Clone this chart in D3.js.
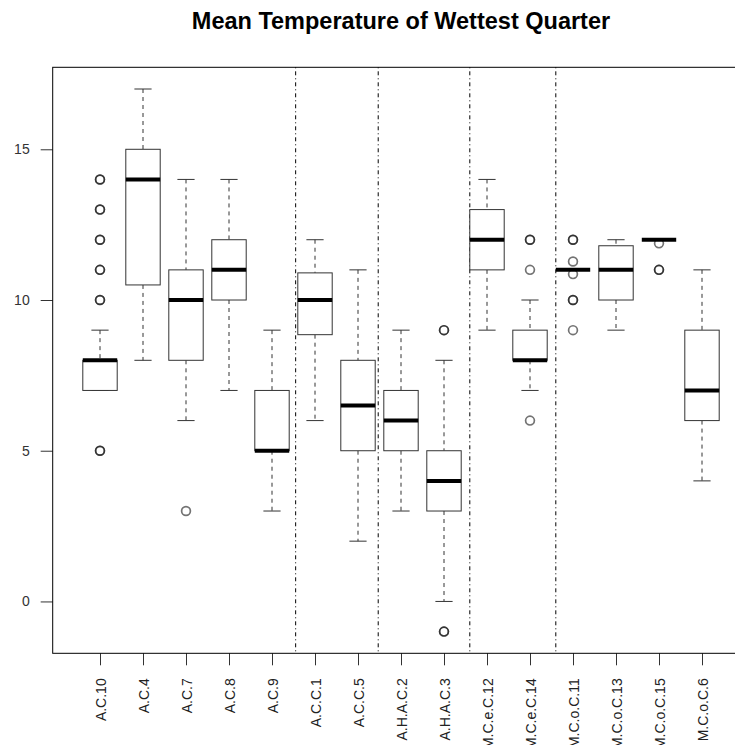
<!DOCTYPE html>
<html>
<head>
    <meta charset="utf-8">
    <title>Mean Temperature of Wettest Quarter</title>
    <script src="https://d3js.org/d3.v7.min.js"></script>
    <style>
        body { margin: 0; background: #fff; }
        text { font-family: "Liberation Sans", Arial, sans-serif; }
    </style>
</head>
<body>
    <div id="chart"></div>

    <script>
        // group names in plotting order
        const groups = ["A.C.10", "A.C.4", "A.C.7", "A.C.8", "A.C.9", "A.C.C.1", "A.C.C.5",
            "A.H.A.C.2", "A.H.A.C.3", "M.C.e.C.12", "M.C.e.C.14", "M.C.o.C.11",
            "M.C.o.C.13", "M.C.o.C.15", "M.C.o.C.6"];

        // box statistics
        const whiskerLow  = [7, 8, 6, 7, 3, 6, 2, 3, 0, 9, 7, 11, 9, 12, 4];
        const lowerQuart  = [7, 10.5, 8, 10, 5, 8.85, 5, 5, 3, 11, 8, 11, 10, 12, 6];
        const medians     = [8, 14, 10, 11, 5, 10, 6.5, 6, 4, 12, 8, 11, 11, 12, 7];
        const upperQuart  = [8, 15, 11, 12, 7, 10.9, 8, 7, 5, 13, 9, 11, 11.8, 12, 9];
        const whiskerHigh = [9, 17, 14, 14, 9, 12, 11, 9, 8, 14, 10, 11, 12, 12, 11];

        // outliers (repeated values = several points drawn on top of each other)
        const outliers = [
            [14, 14, 13, 13, 12, 12, 11, 11, 10, 10, 5, 5],
            [],
            [3],
            [],
            [],
            [],
            [],
            [],
            [9, 9, -1, -1],
            [],
            [12, 12, 11, 6],
            [12, 12, 11.28, 10.86, 10, 10, 9],
            [],
            [11.88, 11, 11],
            []
        ];

        // dash-dot separators between the group blocks (x positions in box units)
        const separators = [5.55, 7.47, 9.6, 11.6];

        const yTicks = [0, 5, 10, 15];

        const width = 735, height = 745;

        const svg = d3.select("#chart").append("svg")
            .attr("width", width)
            .attr("height", height);

        // R style: xlim 0.5..n+0.5 extended by 4%, so the right frame edge falls off the page
        const x = d3.scaleLinear()
            .domain([-0.1, 16.1])
            .range([52.7, 749.3]);

        const y = d3.scaleLinear()
            .domain([-1.72, 17.72])
            .range([653.3, 67.3]);

        const boxHalf = 0.4 * (x(2) - x(1));
        const capHalf = boxHalf / 2;

        // title
        svg.append("text")
            .attr("x", (x(-0.1) + x(16.1)) / 2)
            .attr("y", 29)
            .attr("text-anchor", "middle")
            .attr("font-size", 23.5)
            .attr("font-weight", "bold")
            .attr("fill", "#000")
            .text("Mean Temperature of Wettest Quarter");

        // separators
        svg.selectAll(".sep")
            .data(separators)
            .join("line")
            .attr("class", "sep")
            .attr("x1", d => x(d)).attr("x2", d => x(d))
            .attr("y1", y.range()[1]).attr("y2", y.range()[0])
            .attr("stroke", "#000")
            .attr("stroke-width", 1)
            .attr("stroke-dasharray", "1,3,4,3");

        const idx = d3.range(groups.length);

        const g = svg.selectAll(".box")
            .data(idx)
            .join("g")
            .attr("class", "box")
            .attr("transform", i => `translate(${x(i + 1)},0)`);

        // whiskers
        g.append("line")
            .attr("y1", i => y(whiskerHigh[i])).attr("y2", i => y(upperQuart[i]))
            .attr("stroke", "#333").attr("stroke-dasharray", "4,4");
        g.append("line")
            .attr("y1", i => y(lowerQuart[i])).attr("y2", i => y(whiskerLow[i]))
            .attr("stroke", "#333").attr("stroke-dasharray", "4,4");

        // caps
        g.append("line")
            .attr("x1", -capHalf).attr("x2", capHalf)
            .attr("y1", i => y(whiskerHigh[i])).attr("y2", i => y(whiskerHigh[i]))
            .attr("stroke", "#333");
        g.append("line")
            .attr("x1", -capHalf).attr("x2", capHalf)
            .attr("y1", i => y(whiskerLow[i])).attr("y2", i => y(whiskerLow[i]))
            .attr("stroke", "#333");

        // boxes
        g.append("rect")
            .attr("x", -boxHalf)
            .attr("width", boxHalf * 2)
            .attr("y", i => y(upperQuart[i]))
            .attr("height", i => y(lowerQuart[i]) - y(upperQuart[i]))
            .attr("fill", "#fff")
            .attr("stroke", "#333")
            .attr("stroke-width", 1);

        // medians
        g.append("line")
            .attr("x1", -boxHalf).attr("x2", boxHalf)
            .attr("y1", i => y(medians[i])).attr("y2", i => y(medians[i]))
            .attr("stroke", "#000")
            .attr("stroke-width", 4);

        // outliers
        g.selectAll("circle")
            .data(i => outliers[i])
            .join("circle")
            .attr("cx", 0)
            .attr("cy", d => y(d))
            .attr("r", 4.4)
            .attr("fill", "none")
            .attr("stroke", "#000")
            .attr("stroke-opacity", 0.55)
            .attr("stroke-width", 1.7);

        // axes
        const yAxis = svg.append("g")
            .attr("transform", `translate(${x(-0.1)},0)`)
            .call(d3.axisLeft(y).tickValues(yTicks).tickSize(12).tickPadding(11));
        yAxis.select(".domain").remove();
        yAxis.selectAll("text").attr("font-size", 14).attr("fill", "#333").attr("font-family", null);
        yAxis.selectAll("line").attr("stroke", "#333");

        const xAxis = svg.append("g")
            .attr("transform", `translate(0,${y(-1.72)})`)
            .call(d3.axisBottom(x).tickValues(idx.map(i => i + 1))
                .tickFormat((d, i) => groups[i]).tickSize(12));
        xAxis.select(".domain").remove();
        xAxis.selectAll("line").attr("stroke", "#333");
        xAxis.selectAll("text")
            .attr("font-size", 14)
            .attr("font-family", null)
            .attr("fill", "#222")
            .attr("transform", "rotate(-90)")
            .attr("x", -25)
            .attr("y", 0)
            .attr("dy", "0.36em")
            .attr("text-anchor", "end");

        // frame
        svg.append("rect")
            .attr("x", x(-0.1))
            .attr("y", y(17.72))
            .attr("width", x(16.1) - x(-0.1))
            .attr("height", y(-1.72) - y(17.72))
            .attr("fill", "none")
            .attr("stroke", "#000")
            .attr("stroke-width", 1);
    </script>
</body>
</html>
